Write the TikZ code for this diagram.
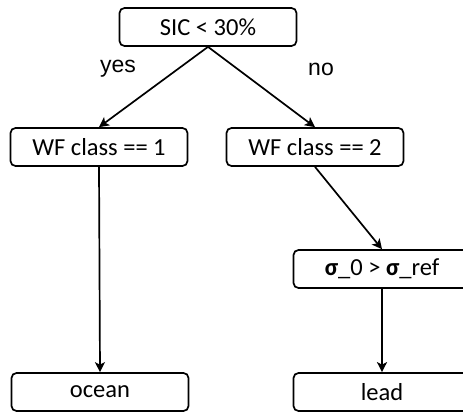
\documentclass[tikz,border=0pt]{standalone}
\usepackage{fontspec}
\setmainfont{Carlito}
\newfontfamily\branchfont{Liberation Sans}
\usetikzlibrary{arrows.meta}
\tikzset{
  testbox/.style={draw,rounded corners=5pt,minimum width=177pt,minimum height=38pt,inner sep=0pt,font=\fontsize{24.5}{28}\selectfont},
  branchlabel/.style={font=\branchfont\fontsize{23}{27}\selectfont},
}

\begin{document}
\begin{tikzpicture}[x=1pt,y=-1pt,>={Stealth[length=10pt,width=10pt,inset=2.5pt]},line width=1.7pt]
\useasboundingbox (0,0) rectangle (463,412);
\clip (0,0) rectangle (463,412);
\node[testbox] (sic) at (208,27) {SIC < 30\%};
\node[testbox] (wf1) at (99,147) {WF class == 1};
\node[testbox] (wf2) at (315,147) {WF class == 2};
\node[testbox] (sig) at (382,269) {{\bfseries σ}\_0 > {\bfseries σ}\_ref};
\node[testbox] (ocean) at (100,392) {ocean};
\node[testbox] (lead) at (382,392) {lead};
\node[branchlabel] (yes) at (118,69) {yes};
\node[branchlabel] (no) at (321,69) {no};
\draw[->] (sic.south) -- (wf1.north);
\draw[->] (sic.south) -- (wf2.north);
\draw[->] (wf1.south) -- (ocean.north);
\draw[->] (wf2.south) -- (sig.north);
\draw[->] (sig.south) -- (lead.north);
\end{tikzpicture}
\end{document}
